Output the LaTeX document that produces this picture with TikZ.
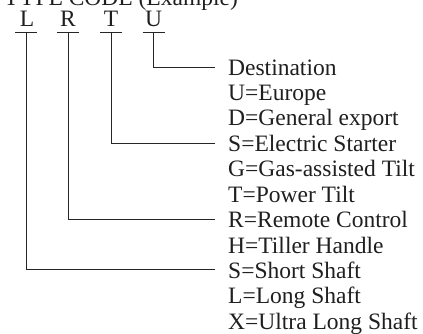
\documentclass[tikz,border=0pt]{standalone}
\usepackage{fontspec}
\setmainfont{Liberation Serif}
\begin{document}
\begin{tikzpicture}[x=1pt,y=-1pt,
  txt/.style={anchor=base west,inner sep=0pt,text=black!88,font=\fontsize{23.5}{25}\selectfont},
  code/.style={anchor=base,inner sep=0pt,text=black!88,font=\fontsize{23.5}{25}\selectfont},
  conn/.style={draw=black!85,line width=0.9pt},
  uline/.style={draw=black!85,line width=0.9pt}]
\useasboundingbox (0,0) rectangle (423,334);
\node[txt] (title) at (4,5.5) {TYPE CODE (Example)};
\node[code] (cL) at (27,26.7) {L};
\node[code] (cR) at (68,26.7) {R};
\node[code] (cT) at (111,26.7) {T};
\node[code] (cU) at (153.5,26.7) {U};
\coordinate (uL) at (26,32.3);
\coordinate (uR) at (68,32.3);
\coordinate (uT) at (111,32.3);
\coordinate (uU) at (153.5,32.3);
\foreach \c in {uL,uR,uT,uU}{\draw[uline] ([xshift=-11pt]\c) -- ([xshift=11pt]\c);}
\node[txt] (t0) at (228,75.2) {Destination};
\node[txt] (t1) at (228,100.6) {U=Europe};
\node[txt] (t2) at (228,126.0) {D=General export};
\node[txt] (t3) at (228,151.4) {S=Electric Starter};
\node[txt] (t4) at (228,176.8) {G=Gas-assisted Tilt};
\node[txt] (t5) at (228,202.2) {T=Power Tilt};
\node[txt] (t6) at (228,227.6) {R=Remote Control};
\node[txt] (t7) at (228,253.0) {H=Tiller Handle};
\node[txt] (t8) at (228,278.4) {S=Short Shaft};
\node[txt] (t9) at (228,303.8) {L=Long Shaft};
\node[txt] (t10) at (228,329.2) {X=Ultra Long Shaft};
\draw[conn] (uU) |- ([shift={(-13,-7.3)}]t0.base west);
\draw[conn] (uT) |- ([shift={(-13,-7.8)}]t3.base west);
\draw[conn] (uR) |- ([shift={(-13,-8.3)}]t6.base west);
\draw[conn] (uL) |- ([shift={(-13,-8.6)}]t8.base west);
\end{tikzpicture}
\end{document}
